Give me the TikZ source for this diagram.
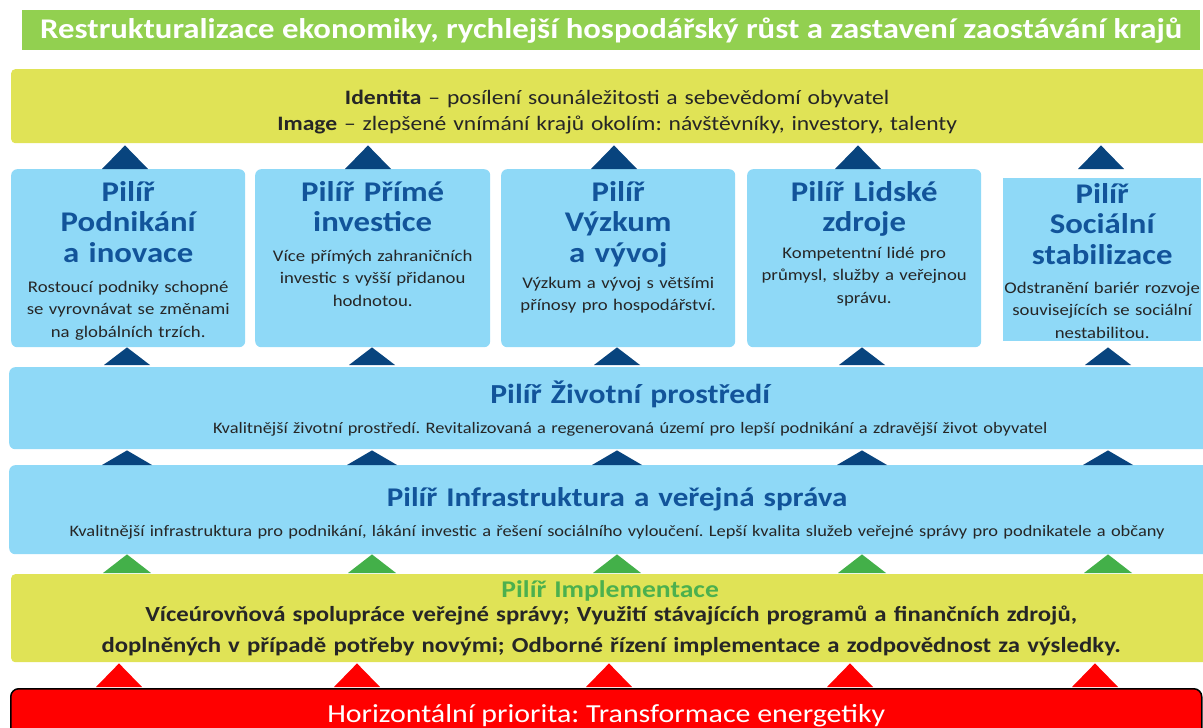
\documentclass[tikz,border=0pt]{standalone}
\usepackage{fontspec}
\setmainfont{Carlito}[FakeStretch=1.15]
\usetikzlibrary{positioning,calc}

\definecolor{titlegreen}{RGB}{146,208,80}
\definecolor{idyellow}{RGB}{224,227,86}
\definecolor{pilblue}{RGB}{143,217,247}
\definecolor{navy}{RGB}{8,68,126}
\definecolor{headblue}{RGB}{18,84,154}
\definecolor{darktext}{RGB}{38,38,38}
\definecolor{trigreen}{RGB}{67,176,73}
\definecolor{implgreen}{RGB}{76,176,78}
\definecolor{priored}{RGB}{255,0,0}

\newcommand{\pilhead}{\fontsize{28.5}{30.5}\selectfont\bfseries}
\newcommand{\pildesc}{\fontsize{16.3}{22.5}\selectfont}

\tikzset{
  box/.style={fill=pilblue,rounded corners=6pt,inner sep=0pt,anchor=north west},
  head/.style={font=\pilhead,text=headblue,align=center,text width=#1,anchor=base,inner sep=0pt},
  head/.default=234,
  desc/.style={font=\pildesc,text=darktext,align=center,text width=#1,anchor=base,inner sep=0pt},
  desc/.default=234,
  tri/.style={fill=navy}
}

\begin{document}
\frenchspacing
\begin{tikzpicture}[x=1pt,y=-1pt]
\useasboundingbox (0,0) rectangle (1203,728);
\clip (0,0) rectangle (1203,728);

% title bar
\node[box,fill=titlegreen,rounded corners=0pt,minimum width=1178,minimum height=40,
  font=\fontsize{28.5}{30}\selectfont\bfseries,text=white] (title) at (22,10)
  {Restrukturalizace ekonomiky, rychlejší hospodářský růst a zastavení zaostávání krajů};

% identity / image
\node[box,fill=idyellow,rounded corners=4pt,minimum width=1212,minimum height=74] (ident) at (11,69) {};
\node[font=\fontsize{20.5}{26}\selectfont,text=darktext,align=center,text width=1000,anchor=base,inner sep=0pt]
  (identtxt) at ($(ident.north)+(0,35)$)
  {\textbf{Identita} – posílení sounáležitosti a sebevědomí obyvatel\\
   \textbf{Image} – zlepšené vnímání krajů okolím: návštěvníky, investory, talenty};

% pillars
\node[box,minimum width=234,minimum height=178] (p1) at (11,169) {};
\node[box,minimum width=235,minimum height=178] (p2) at (255,169) {};
\node[box,minimum width=234,minimum height=178] (p3) at (501,169) {};
\node[box,minimum width=234,minimum height=178] (p4) at (747,169) {};
\node[box,rounded corners=0pt,minimum width=198,minimum height=163] (p5) at (1003,178) {};

\node[head] (h1) at ($(p1.north)+(0,32)$) {Pilíř\\Podnikání\\a inovace};
\node[desc] (d1) at ($(p1.north)+(0,123)$) {Rostoucí podniky schopné\\se vyrovnávat se změnami\\na globálních trzích.};
\node[head] (h2) at ($(p2.north)+(0,32)$) {Pilíř Přímé\\investice};
\node[desc] (d2) at ($(p2.north)+(0,92)$) {Více přímých zahraničních\\investic s vyšší přidanou\\hodnotou.};
\node[head] (h3) at ($(p3.north)+(0,32)$) {Pilíř\\Výzkum\\a vývoj};
\node[desc] (d3) at ($(p3.north)+(0,119)$) {Výzkum a vývoj s většími\\přínosy pro hospodářství.};
\node[head] (h4) at ($(p4.north)+(0,32)$) {Pilíř Lidské\\zdroje};
\node[desc] (d4) at ($(p4.north)+(0,89)$) {Kompetentní lidé pro\\průmysl, služby a veřejnou\\správu.};
\node[head=198] (h5) at ($(p5.north)+(0,25)$) {Pilíř\\Sociální\\stabilizace};
\node[desc=198] (d5) at ($(p5.north)+(0,115)$) {Odstranění bariér rozvoje\\souvisejících se sociální\\nestabilitou.};

% environment
\node[box,minimum width=1214,minimum height=82] (env) at (9,367) {};
\node[head=1100,font=\fontsize{27.5}{30}\selectfont\bfseries] (envh) at ($(env.north)+(14,36)$) {Pilíř Životní prostředí};
\node[desc=1150,font=\fontsize{16}{20}\selectfont] (envd) at ($(env.north)+(14,66)$)
  {Kvalitnější životní prostředí. Revitalizovaná a regenerovaná území pro lepší podnikání a zdravější život obyvatel};

% infrastructure
\node[box,minimum width=1214,minimum height=89] (infra) at (9,465) {};
\node[head=1100,font=\fontsize{27}{30}\selectfont\bfseries] (infrah) at ($(infra.north)+(1,41)$) {Pilíř Infrastruktura a veřejná správa};
\node[desc=1180,font=\fontsize{16}{20}\selectfont] (infrad) at ($(infra.north)+(1,71)$)
  {Kvalitnější infrastruktura pro podnikání, lákání investic a řešení sociálního vyloučení. Lepší kvalita služeb veřejné správy pro podnikatele a občany};

% implementation
\node[box,fill=idyellow,rounded corners=4pt,minimum width=1212,minimum height=88] (impl) at (11,574) {};
\node[head=1100,text=implgreen,font=\fontsize{24}{26}\selectfont\bfseries] (implh) at ($(impl.north)+(-7,23)$) {Pilíř Implementace};
\node[desc=1150,font=\fontsize{21.5}{31}\selectfont\bfseries] (impld) at ($(impl.north)+(-6,47)$)
  {Víceúrovňová spolupráce veřejné správy; Využití stávajících programů a finančních zdrojů,\\
   doplněných v případě potřeby novými; Odborné řízení implementace a zodpovědnost za výsledky.};

% horizontal priority
\node[box,fill=priored,draw=black,line width=1.5pt,rounded corners=8pt,minimum width=1191,minimum height=60] (prio) at (10,688) {};
\node[font=\fontsize{26}{30}\selectfont,text=white,anchor=base,inner sep=0pt] (priotxt) at ($(prio.north)+(0,34)$)
  {Horizontální priorita: Transformace energetiky};

% arrow triangles
\foreach \i/\xt/\xm/\xr in {1/125/127/119, 2/368/372/357, 3/614/617/609, 4/858/862/850, 5/1101/1108/1095} {
  \coordinate (t\i) at (\xt,0);
  \coordinate (m\i) at (\xm,0);
  \coordinate (r\i) at (\xr,0);
  \fill[tri] ($(t\i |- p1.north)+(-23,0)$) -- ($(t\i |- p1.north)+(23,0)$) -- ($(t\i |- ident.south)+(0,2)$) -- cycle;
  \fill[tri] ($(m\i |- env.north)+(-23,-2)$) -- ($(m\i |- env.north)+(23,-2)$) -- (m\i |- p1.south) -- cycle;
  \fill[tri] ($(m\i |- infra.north)+(-25,0)$) -- ($(m\i |- infra.north)+(25,0)$) -- ($(m\i |- env.south)+(0,1)$) -- cycle;
  \fill[trigreen] ($(m\i |- impl.north)+(-24,-1)$) -- ($(m\i |- impl.north)+(24,-1)$) -- (m\i |- infra.south) -- cycle;
  \fill[priored] ($(r\i |- prio.north)+(-23,-1)$) -- ($(r\i |- prio.north)+(23,-1)$) -- ($(r\i |- impl.south)+(0,1)$) -- cycle;
}
\end{tikzpicture}
\end{document}
